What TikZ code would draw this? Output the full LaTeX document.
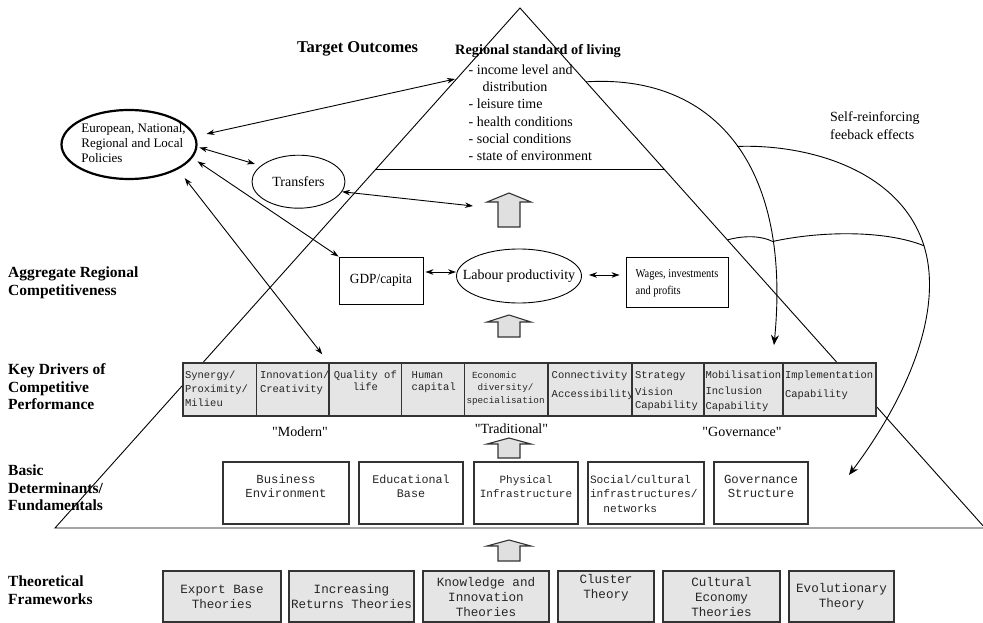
\documentclass[tikz,border=0pt]{standalone}
\usepackage{fontspec}
\setmainfont{Liberation Serif}
\setmonofont{Liberation Mono}
\usetikzlibrary{positioning,calc,arrows.meta,shapes.geometric}

\definecolor{cellgray}{gray}{0.9}
\definecolor{arrowgray}{gray}{0.88}
\definecolor{boxline}{gray}{0.2}

\newcommand{\stack}[2][l]{\begin{tabular}[t]{@{}#1@{}}#2\end{tabular}}
\newcommand{\drv}[3]{\parbox[t][53pt][t]{#1}{#2\rule{0pt}{15pt}#3}}
\newcommand{\fund}[3]{\parbox[t][62pt][t]{#1}{#2\rule{0pt}{21pt}#3}}
\newcommand{\quoted}[1]{\textquotedbl#1\textquotedbl}

\begin{document}
\begin{tikzpicture}[x=1pt, y=-1pt,
		>={Stealth[length=8pt,width=5.5pt]},
		tier/.style={anchor=base west, inner sep=0pt, font=\fontsize{15.5}{17.5}\selectfont\bfseries},
		txt/.style={inner sep=0pt, font=\fontsize{14}{17.2}\selectfont},
		conn/.style={<->, line width=0.9pt},
		feed/.style={-{Stealth[length=10pt,width=8pt]}, line width=0.9pt},
		driver/.style={draw=boxline, line width=1.1pt, fill=cellgray, inner sep=0pt, outer sep=0pt, anchor=north west, text=black!85, font=\fontsize{10.5}{14}\selectfont\ttfamily},
		fundbox/.style={draw=boxline, line width=1.1pt, fill=white, inner sep=0pt, outer sep=0pt, anchor=north west, text=black!85},
		theory/.style={draw=boxline, line width=1.1pt, fill=cellgray, inner sep=0pt, outer sep=0pt, anchor=north west, minimum height=51pt, align=center, text=black!85, font=\fontsize{12.6}{15}\selectfont\ttfamily},
		blockarrow/.style={draw=boxline, line width=1.1pt, fill=arrowgray},
		pics/uparrow/.style 2 args={code={\draw[blockarrow] (0,0) -- (22,#1) -- (11,#1) -- (11,#2) -- (-11,#2) -- (-11,#1) -- (-22,#1) -- cycle;}}
	]
	\useasboundingbox (0,0) rectangle (983,623);
	\coordinate (apex) at (520,8);
	\coordinate (baseL) at (55,528);
	\coordinate (baseR) at (985,528);
	\draw[line width=0.9pt] (apex) -- (baseR) -- (baseL) -- cycle;
	\draw[line width=0.9pt] ($(apex)!0.3096!(baseL)$) -- ($(apex)!0.3096!(baseR)$);

	\node[anchor=base west, inner sep=0pt, font=\fontsize{16.5}{18}\selectfont\bfseries] (target) at (297,53) {Target Outcomes};
	\node[anchor=base west, inner sep=0pt, font=\fontsize{14.3}{17}\selectfont\bfseries] (standard) at (455,55) {Regional standard of living};
	\node[txt, anchor=base west] (conditions) at (468.5,74.5) {\stack{- income level and\\\hspace*{14pt}distribution\\- leisure time\\- health conditions\\- social conditions\\- state of environment}};
	\node[txt, anchor=base west] (feedback) at (830,122) {\stack{Self-reinforcing\\feeback effects}};

	\node[tier] (aggregate) at (8,277.5) {\stack{Aggregate Regional\\Competitiveness}};
	\node[tier] (keydrivers) at (8,374.5) {\stack{Key Drivers of\\Competitive\\Performance}};
	\node[tier] (basic) at (8,475.5) {\stack{Basic\\Determinants/\\Fundamentals}};
	\node[tier] (theoretical) at (8,586.5) {\stack{Theoretical\\Frameworks}};

	\node[draw, ellipse, line width=2.2pt, minimum width=135pt, minimum height=69pt, inner sep=0pt, font=\fontsize{13}{14.7}\selectfont] (policies) at (129,144.5) {\makebox[0pt]{\hspace*{9pt}\stack{European, National,\\Regional and Local\\Policies}}};
	\node[draw, ellipse, line width=0.9pt, minimum width=93pt, minimum height=53pt, inner sep=0pt, font=\fontsize{14}{16}\selectfont] (transfers) at (298.5,181.7) {Transfers};
	\node[draw, line width=0.9pt, minimum width=84pt, minimum height=47pt, inner sep=0pt, font=\fontsize{14}{16}\selectfont\addfontfeature{FakeStretch=0.95}] (gdp) at (381,280.5) {GDP/capita};
	\node[draw, ellipse, line width=0.9pt, minimum width=125pt, minimum height=54pt, inner sep=0pt, font=\fontsize{14}{16}\selectfont] (labour) at (519,276) {\makebox[0pt]{Labour productivity}};
	\node[draw, line width=0.9pt, minimum width=102pt, minimum height=50pt, inner sep=0pt, font=\fontsize{12}{16.5}\selectfont\addfontfeature{FakeStretch=0.87}] (wages) at (677,282.5) {\stack{Wages, investments\\and profits}};

	\node[driver] (synergy) at (183,363) {\drv{73.7pt}{\raggedright\leftskip=2pt\relax}{Synergy/\\Proximity/\\Milieu}};
	\node[driver, right=0pt of synergy] (innovation) {\drv{72.3pt}{\raggedright\leftskip=3.3pt\relax}{Innovation/\\Creativity}};
	\node[driver, right=0pt of innovation] (quality) {\drv{72.7pt}{\centering}{Quality of\\[-2pt]life}};
	\node[driver, right=0pt of quality] (human) {\drv{62.8pt}{\raggedright\leftskip=10pt\relax}{Human\\[-2pt]capital}};
	\node[driver, right=0pt of human] (diversity) {\drv{83.5pt}{\raggedright\leftskip=2pt\relax\fontsize{9.3}{12.6}\selectfont}{\ Economic\\\ \ diversity/\\specialisation}};
	\node[driver, right=0pt of diversity] (connect) {\drv{84pt}{\raggedright\leftskip=3.7pt\relax}{Connectivity\\[5pt]Accessibility}};
	\node[driver, right=0pt of connect] (strategy) {\drv{72pt}{\raggedright\leftskip=3pt\relax}{Strategy\\[3.7pt]Vision\\[-1.7pt]Capability}};
	\node[driver, right=0pt of strategy] (mobil) {\drv{79pt}{\raggedright\leftskip=1.5pt\relax}{Mobilisation\\[2.7pt]Inclusion\\[0.7pt]Capability}};
	\node[driver, right=0pt of mobil] (implem) {\drv{93pt}{\raggedright\leftskip=2pt\relax}{Implementation\\[5pt]Capability}};

	\node[txt, anchor=base] (modern) at (300,436) {\quoted{Modern}};
	\node[txt, anchor=base] (traditional) at (511.5,433) {\quoted{Traditional}};
	\node[txt, anchor=base] (governance) at (742,436) {\quoted{Governance}};

	\node[fundbox, font=\fontsize{12.3}{14.5}\selectfont\ttfamily] (business) at (223,462) {\fund{126pt}{\centering}{Business\\Environment}};
	\node[fundbox, right=10pt of business, font=\fontsize{11.7}{14.2}\selectfont\ttfamily] (education) {\fund{104pt}{\centering}{Educational\\Base}};
	\node[fundbox, right=11pt of education, font=\fontsize{11}{14.5}\selectfont\ttfamily] (physical) {\fund{104pt}{\centering}{Physical\\Infrastructure}};
	\node[fundbox, right=10pt of physical, font=\fontsize{11.2}{14.5}\selectfont\ttfamily] (social) {\fund{116pt}{\raggedright\leftskip=2pt\relax}{Social/cultural\\infrastructures/\\\ \ networks}};
	\node[fundbox, right=10pt of social, font=\fontsize{12.3}{14.2}\selectfont\ttfamily] (govstruct) {\fund{94pt}{\centering}{Governance\\Structure}};

	\node[theory, minimum width=118pt] (exportbase) at (163,571) {Export Base\\Theories};
	\node[theory, minimum width=125pt, right=8pt of exportbase] (increasing) {Increasing\\Returns Theories};
	\node[theory, minimum width=126pt, right=9pt of increasing] (knowledge) {Knowledge and\\Innovation\\Theories};
	\node[theory, minimum width=96pt, right=9pt of knowledge] (cluster) {Cluster\\Theory\\\strut};
	\node[theory, minimum width=117pt, right=9pt of cluster] (cultural) {Cultural\\Economy\\Theories};
	\node[theory, minimum width=105pt, right=9pt of cultural] (evolution) {Evolutionary\\Theory};

	\pic (upA) at (509,193) {uparrow={9}{34}};
	\pic (upB) at (509,315) {uparrow={7}{22}};
	\pic (upC) at (509,438) {uparrow={6}{20}};
	\pic (upD) at (509,540) {uparrow={6}{21}};

	\coordinate (stdleft) at (455,79);
	\coordinate (upAleft) at (473,206);
	\draw[conn, shorten <=11pt] (policies.7) -- (stdleft);
	\draw[conn, shorten <=2pt, shorten >=6pt] (policies.-2) -- (transfers.157);
	\draw[conn, shorten <=6pt] (policies.-12) -- (gdp.north west);
	\draw[conn, shorten <=11pt, shorten >=11pt] (policies.-27) -- (quality.north west);
	\draw[conn] (transfers.-13) -- (upAleft);
	\draw[conn, shorten <=2pt] ([yshift=8.5pt]gdp.east) -- ([yshift=4pt]labour.west);
	\draw[conn, shorten <=7pt, shorten >=6pt] ([yshift=1pt]labour.east) -- ([yshift=7.5pt]wages.west);

	\coordinate (fbstart) at ($(apex)!0.142!(baseR)$);
	\coordinate (fbedge) at ($(apex)!0.446!(baseR)$);
	\coordinate (fbtipA) at (774,345);
	\coordinate (fbtipB) at (849,475);
	\draw[feed] (fbstart) .. controls (710,74) and (792,160) .. (fbtipA) coordinate[pos=0.52] (fbsplit) coordinate[pos=0.79] (fbcrossA);
	\draw[feed] (fbsplit) .. controls (800,144) and (890,165) .. (920,235) .. controls (945,293) and (920,380) .. (fbtipB) coordinate[pos=0.06] (fbcrossB);
	\draw[line width=0.9pt] (fbedge) .. controls (745,235) and (762,236) .. (fbcrossA);
	\draw[line width=0.9pt] (fbcrossA) .. controls (820,231) and (885,230) .. (fbcrossB);
\end{tikzpicture}
\end{document}
